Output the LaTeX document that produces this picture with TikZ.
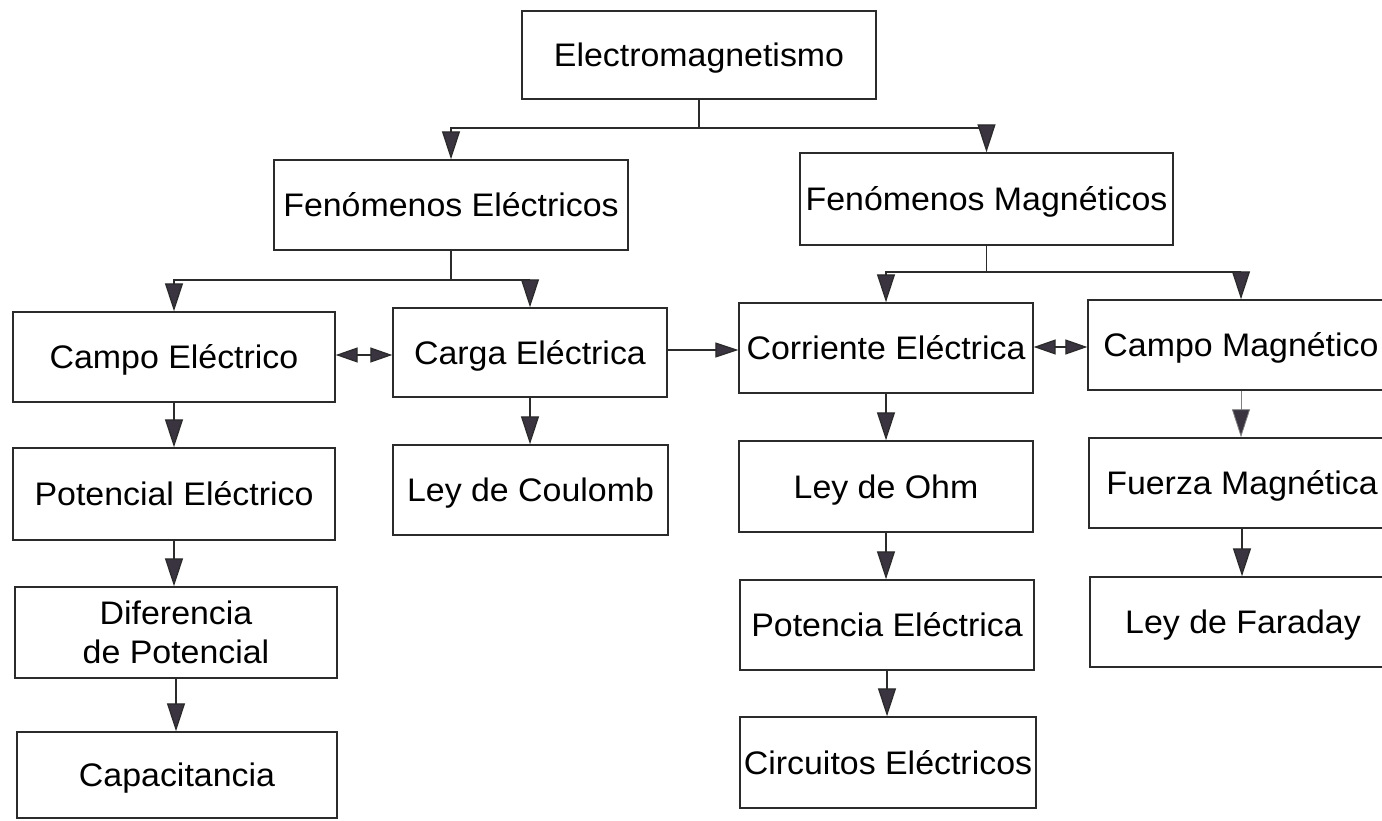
\documentclass[tikz,border=0pt]{standalone}
\usepackage{fontspec}
\setmainfont{Liberation Sans}[FakeStretch=1.04]
\usetikzlibrary{arrows.meta}
\definecolor{ln}{HTML}{2B2B2B}
\definecolor{hd}{HTML}{3A3340}
\begin{document}
\begin{tikzpicture}[x=1pt,y=-1pt,
  box/.style={draw=ln, line width=1.4pt, rectangle, inner sep=0pt, align=center,
    font=\fontsize{32.6}{39}\selectfont, text height=23.5pt, text depth=0pt},
  arr/.style={draw=ln, line width=1.3pt, -{Triangle[length=28pt,width=18pt,fill=hd]}},
  harr/.style={draw=ln, line width=1.3pt, -{Triangle[length=23pt,width=15pt,fill=hd]}},
  darr/.style={draw=ln, line width=1.3pt,
    {Triangle[length=22pt,width=15pt,fill=hd]}-{Triangle[length=22pt,width=15pt,fill=hd]}}]
\clip (0,0) rectangle (1382,821);
\fill[white] (0,0) rectangle (1382,821);
% top levels
\node[box, minimum width=354pt, minimum height=88pt] (EM) at (699,55) {Electromagnetismo};
\node[box, minimum width=354pt, minimum height=90pt] (FE) at (451,205) {Fenómenos Eléctricos};
\node[box, minimum width=373pt, minimum height=92pt] (FM) at (986.5,199) {Fenómenos Magnéticos};
% column 1
\node[box, minimum width=322pt, minimum height=90pt] (CE) at (174,357) {Campo Eléctrico};
\node[box, minimum width=322pt, minimum height=92pt] (PO) at (174,494) {Potencial Eléctrico};
\node[box, minimum width=322pt, minimum height=91pt, text height=62.5pt] (DI) at (176,632.5) {Diferencia\\de Potencial};
\node[box, minimum width=320pt, minimum height=86pt] (CAP) at (177,775) {Capacitancia};
% column 2
\node[box, minimum width=274pt, minimum height=89pt] (CA) at (530,352.5) {Carga Eléctrica};
\node[box, minimum width=275pt, minimum height=90pt] (CL) at (530.5,490) {Ley de Coulomb};
% column 3
\node[box, minimum width=294pt, minimum height=90pt] (CO) at (886,348) {Corriente Eléctrica};
\node[box, minimum width=294pt, minimum height=91pt] (OH) at (886,486.5) {Ley de Ohm};
\node[box, minimum width=294pt, minimum height=90pt] (PT) at (887,625) {Potencia Eléctrica};
\node[box, minimum width=296pt, minimum height=91pt] (CI) at (888,762.5) {Circuitos Eléctricos};
% column 4
\node[box, minimum width=306pt, minimum height=90pt] (CM) at (1241,345) {Campo Magnético};
\node[box, minimum width=306pt, minimum height=90pt] (FU) at (1242,483) {Fuerza Magnética};
\node[box, minimum width=306pt, minimum height=90pt] (FA) at (1243,622) {Ley de Faraday};
% tree connectors
\coordinate (j1) at (EM.south |- 0,128);
\draw[arr] (EM.south) -- (j1) -| (FE.north);
\draw[arr] (j1) -| (FM.north);
\coordinate (j2) at (FE.south |- 0,280);
\draw[arr] (FE.south) -- (j2) -| (CE.north);
\draw[arr] (j2) -| (CA.north);
\coordinate (j3) at (FM.south |- 0,272);
\draw[arr] (FM.south) -- (j3) -| (CO.north);
\draw[arr] (j3) -| (CM.north);
% horizontal links
\draw[darr] (CE.east |- 0,355) -- (CA.west |- 0,355);
\draw[harr] (CA.east |- 0,350) -- (CO.west |- 0,350);
\draw[darr] (CO.east |- 0,347) -- (CM.west |- 0,347);
% vertical chains
\draw[arr] (CE.south) -- (CE.south |- PO.north);
\draw[arr] (PO.south) -- (PO.south |- DI.north);
\draw[arr] (DI.south) -- (DI.south |- CAP.north);
\draw[arr] (CA.south) -- (CA.south |- CL.north);
\draw[arr] (CO.south) -- (CO.south |- OH.north);
\draw[arr] (OH.south) -- (OH.south |- PT.north);
\draw[arr] (PT.south) -- (PT.south |- CI.north);
\draw[arr, line width=0.8pt, draw=gray] (CM.south) -- (CM.south |- FU.north);
\draw[arr] (FU.south) -- (FU.south |- FA.north);
\end{tikzpicture}
\end{document}
